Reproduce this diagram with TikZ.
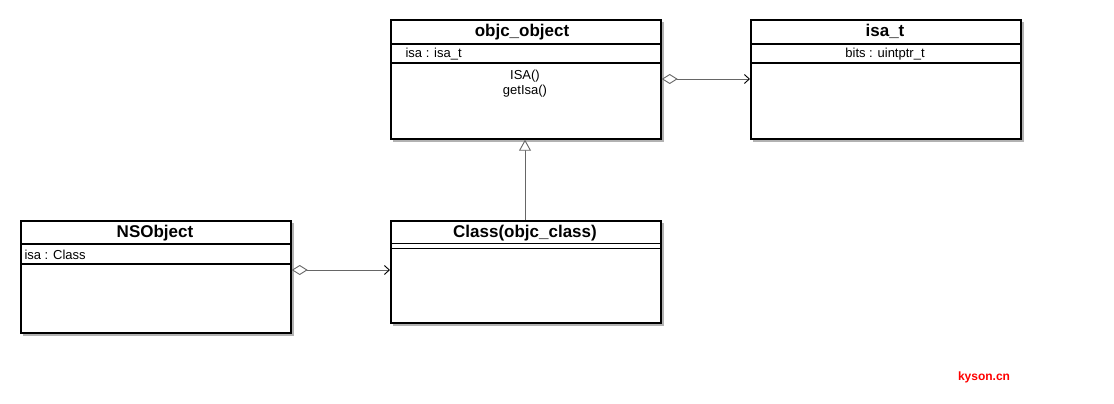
\documentclass[tikz,border=0pt]{standalone}
\usepackage{fontspec}
\setmainfont{Liberation Sans}
\usetikzlibrary{arrows.meta,calc}
\begin{document}
\begin{tikzpicture}[x=1pt,y=-1pt,
  umlbox/.style={draw=black,line width=1.7pt,fill=white,minimum width=270pt,anchor=north west,inner sep=0pt},
  shadowbox/.style={fill=black!30,draw=none},
  sepline/.style={line width=1.5pt},
  titletext/.style={font=\fontsize{17}{19}\selectfont\bfseries,anchor=base},
  attrtext/.style={font=\fontsize{13}{15}\selectfont,anchor=base},
  conn/.style={draw=black!60,line width=0.9pt},
  aggr/.style={conn,{Diamond[open,length=16pt,width=10pt,fill=white]}-{Straight Barb[length=5pt,width=9pt,line width=0.9pt,black]}},
  gen/.style={conn,-{Triangle[open,length=11pt,width=12pt,fill=white]}},
  wm/.style={font=\fontsize{12}{14}\selectfont\bfseries,text=red}]
\useasboundingbox (0,0) rectangle (1114,404);
% shadows
\fill[shadowbox] (393,22) rectangle (664,142);
\fill[shadowbox] (753,22) rectangle (1024,142);
\fill[shadowbox] (23,223) rectangle (294,336);
\fill[shadowbox] (393,223) rectangle (664,326);
% boxes
\node[umlbox,minimum height=119pt] (oo) at (390,19) {};
\node[umlbox,minimum height=119pt] (isat) at (750,19) {};
\node[umlbox,minimum height=112pt] (nso) at (20,220) {};
\node[umlbox,minimum height=102pt] (cls) at (390,220) {};
% separators
\draw[sepline] (oo.west |- 0,44) -- (oo.east |- 0,44);
\draw[sepline] (oo.west |- 0,63) -- (oo.east |- 0,63);
\draw[sepline] (isat.west |- 0,44) -- (isat.east |- 0,44);
\draw[sepline] (isat.west |- 0,63) -- (isat.east |- 0,63);
\draw[sepline] (nso.west |- 0,244) -- (nso.east |- 0,244);
\draw[sepline] (nso.west |- 0,264) -- (nso.east |- 0,264);
\draw[sepline] (cls.west |- 0,243.5) -- (cls.east |- 0,243.5);
\draw[sepline] (cls.west |- 0,248.5) -- (cls.east |- 0,248.5);
% texts
\node[titletext] (ooT) at (522,37) {objc\_object};
\node[attrtext,anchor=base west] (ooA) at (402,58) {isa : isa\_t};
\node[attrtext] (ooM1) at (525,79) {ISA()};
\node[attrtext] (ooM2) at (525,95) {getIsa()};
\node[titletext] (isatT) at (885,37) {isa\_t};
\node[attrtext] (isatA) at (885,58) {bits : uintptr\_t};
\node[titletext] (nsoT) at (155,237.5) {NSObject};
\node[attrtext,anchor=base west] (nsoA) at (21,259) {isa : Class};
\node[titletext] (clsT) at (525,237.5) {Class(objc\_class)};
\node[wm] (wm) at (984,377) {kyson.cn};
% connectors
\draw[aggr] (oo.east |- 0,79) -- (isat.west |- 0,79);
\draw[aggr] (nso.east |- 0,270) -- (cls.west |- 0,270);
\draw[gen] (cls.north -| 525,0) -- (oo.south -| 525,0);
\end{tikzpicture}
\end{document}
